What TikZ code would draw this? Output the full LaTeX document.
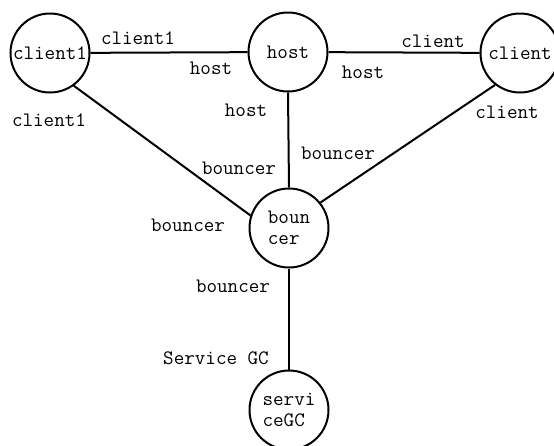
\documentclass[tikz,border=0pt]{standalone}
\begin{document}
\begin{tikzpicture}[x=1pt,y=-1pt,line width=2pt,
  txt/.style={font=\ttfamily\fontsize{20.5}{21}\selectfont},
  peer/.style={circle,draw,minimum size=79pt,inner sep=0pt,align=left,txt},
  lbl/.style={inner sep=0pt,txt}]
\useasboundingbox (0,0) rectangle (554,445);
\clip (0,0) rectangle (554,445);

% peers
\node[peer] (client1) at (50,53) {client1};
\node[peer] (host) at (288,52) {host};
\node[peer] (client) at (520,53) {client};
\node[peer] (bouncer) at (289,228) {boun\\cer};
\node[peer] (service) at (289,410) {servi\\ceGC};

% links
\draw (client1) -- (host);
\draw (host) -- (client);
\draw (client1.-54) -- (bouncer.162);
\draw (host.south) -- (bouncer.north);
\draw (client.232) -- (bouncer.39);
\draw (bouncer.south) -- (service.north);

% end-point names
\node[lbl] (l1) at (138,38) {client1};
\node[lbl] (l2) at (211,68) {host};
\node[lbl] (l3) at (433,41) {client};
\node[lbl] (l4) at (363,72) {host};
\node[lbl] (l5) at (49,120) {client1};
\node[lbl] (l6) at (246,110) {host};
\node[lbl] (l7) at (507,112) {client};
\node[lbl] (l8) at (338,153) {bouncer};
\node[lbl] (l9) at (239,168) {bouncer};
\node[lbl] (l10) at (188,225) {bouncer};
\node[lbl] (l11) at (233,286) {bouncer};
\node[lbl] (l12) at (216,358) {Service GC};
\end{tikzpicture}
\end{document}
